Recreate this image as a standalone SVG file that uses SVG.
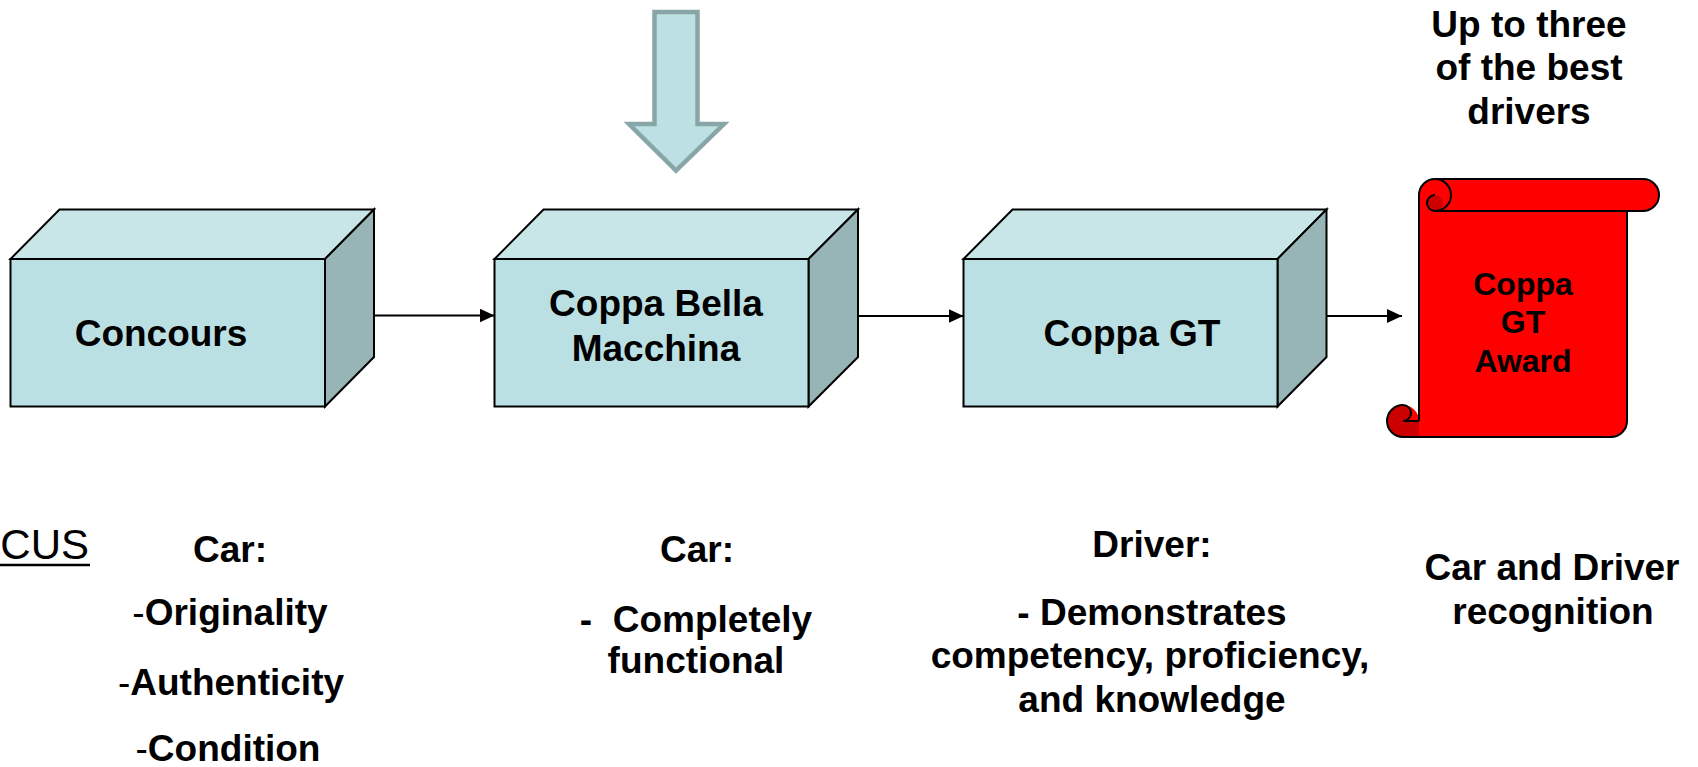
<svg xmlns="http://www.w3.org/2000/svg" width="1698" height="767" viewBox="0 0 1698 767">
<style>
.t{font-family:"Liberation Sans",Arial,sans-serif;font-weight:bold;font-size:37px;fill:#000;text-anchor:middle}
.s{font-size:32px}
.r{font-weight:normal}
.front{fill:#bbe0e3;stroke:#000;stroke-width:2;stroke-linejoin:miter}
.top{fill:#c8e6e8;stroke:#000;stroke-width:2}
.side{fill:#97b5b7;stroke:#000;stroke-width:2}
.conn{stroke:#000;stroke-width:2;fill:none}
.ol{fill:none;stroke:#000;stroke-width:2}
</style>
<defs>
<marker id="ah" markerUnits="userSpaceOnUse" markerWidth="15" markerHeight="14" refX="15" refY="7" orient="auto">
<path d="M0,0 L15,7 L0,14 Z" fill="#000"/>
</marker>
</defs>
<rect width="1698" height="767" fill="#fff"/>

<g id="input-arrow">
<polygon points="654.5,12 697.5,12 697.5,124 724,124 676,170.5 629,124 654.5,124" fill="#bde0e3" stroke="#88a6a8" stroke-width="4.5" stroke-linejoin="miter"/>
</g>

<g id="connectors">
<line class="conn" x1="374" y1="315.5" x2="494.5" y2="315.5" marker-end="url(#ah)"/>
<line class="conn" x1="858" y1="316" x2="963.5" y2="316" marker-end="url(#ah)"/>
<line class="conn" x1="1326.5" y1="316" x2="1402" y2="316" marker-end="url(#ah)"/>
</g>

<g id="concours">
<polygon class="top" points="10.5,259 59.5,209.5 374,209.5 325,259"/>
<polygon class="side" points="325,259 374,209.5 374,357 325,406.5"/>
<rect class="front" x="10.5" y="259" width="314.5" height="147.5"/>
<text class="t" x="161" y="346">Concours</text>
</g>

<g id="coppa-bella">
<polygon class="top" points="494.5,259 543.5,209.5 858,209.5 808.5,259"/>
<polygon class="side" points="808.5,259 858,209.5 858,357 808.5,406.5"/>
<rect class="front" x="494.5" y="259" width="314" height="147.5"/>
<text class="t" x="656" y="316">Coppa Bella</text>
<text class="t" x="656" y="361">Macchina</text>
</g>

<g id="coppa-gt">
<polygon class="top" points="963.5,259 1012.5,209.5 1326.5,209.5 1277.5,259"/>
<polygon class="side" points="1277.5,259 1326.5,209.5 1326.5,357 1277.5,406.5"/>
<rect class="front" x="963.5" y="259" width="314" height="147.5"/>
<text class="t" x="1132" y="346">Coppa GT</text>
</g>

<g id="award">
<path d="M1419,195 A16,16 0 0 1 1435,179 L1643,179 A16,16 0 0 1 1643,211 L1627,211 L1627,421 A16,16 0 0 1 1611,437 L1419,437 Z" fill="#ff0000"/>
<path d="M1403,405 A16,16 0 0 1 1419,421 L1403,421 Z" fill="#ff0000"/>
<path d="M1419,421 L1403,421 A8,8 0 0 0 1403,405 A16,16 0 0 0 1403,437 L1419,437 Z" fill="#cc0000"/>
<circle cx="1435" cy="203" r="8" fill="#cc0000"/>
<path class="ol" d="M1419,421 L1419,195 A16,16 0 0 1 1435,179 L1643,179 A16,16 0 0 1 1643,211 L1435,211"/>
<path class="ol" d="M1435,179 A16,16 0 0 1 1435,211"/>
<path class="ol" d="M1435,195 A8,8 0 0 0 1435,211"/>
<path class="ol" d="M1627,211 L1627,421 A16,16 0 0 1 1611,437 L1403,437 A16,16 0 0 1 1403,405 A8,8 0 0 1 1403,421 L1419,421"/>
<text class="t s" x="1523" y="295">Coppa</text>
<text class="t s" x="1523" y="333">GT</text>
<text class="t s" x="1523" y="372">Award</text>
</g>

<g id="award-note">
<text class="t" x="1529" y="37">Up to three</text>
<text class="t" x="1529" y="80">of the best</text>
<text class="t" x="1529" y="124">drivers</text>
</g>

<g id="focus-label">
<text class="t r" x="89" y="559" style="text-anchor:end;font-size:42px">CUS</text>
<line x1="0" y1="565" x2="90" y2="565" stroke="#000" stroke-width="2.5"/>
</g>

<g id="concours-criteria">
<text class="t" x="230" y="562">Car:</text>
<text class="t" x="230" y="625"><tspan class="r">-</tspan>Originality</text>
<text class="t" x="231" y="695"><tspan class="r">-</tspan>Authenticity</text>
<text class="t" x="228" y="761"><tspan class="r">-</tspan>Condition</text>
</g>

<g id="bella-criteria">
<text class="t" x="697" y="562">Car:</text>
<text class="t" x="696" y="632" style="white-space:pre">-  Completely</text>
<text class="t" x="696" y="673">functional</text>
</g>

<g id="gt-criteria">
<text class="t" x="1152" y="557">Driver:</text>
<text class="t" x="1152" y="625">- Demonstrates</text>
<text class="t" x="1150" y="668">competency, proficiency,</text>
<text class="t" x="1152" y="712">and knowledge</text>
</g>

<g id="award-criteria">
<text class="t" x="1552" y="580">Car and Driver</text>
<text class="t" x="1553" y="624">recognition</text>
</g>
</svg>
